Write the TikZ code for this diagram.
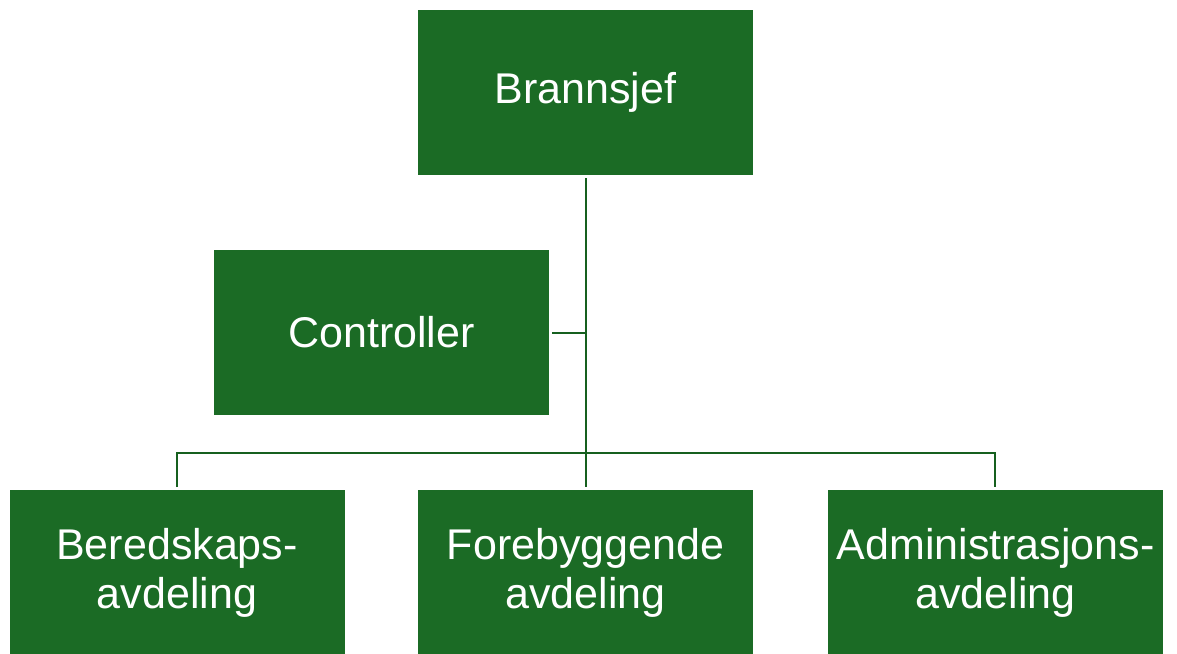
\documentclass[tikz,border=0pt]{standalone}
\usepackage{fontspec}
\setmainfont{Liberation Sans}
\definecolor{boxgreen}{HTML}{1B6B25}
\definecolor{linegreen}{HTML}{16601F}
\begin{document}
\begin{tikzpicture}[x=1pt,y=-1pt,
  box/.style={fill=boxgreen,draw=none,text=white,minimum width=335pt,minimum height=165pt,align=center,inner sep=0pt,font=\fontsize{43}{49}\selectfont},
  conn/.style={draw=linegreen,line width=2pt}]
\useasboundingbox (0,0) rectangle (1177,653);
\node[box] (chief) at (585.5,92.5) {Brannsjef};
\node[box] (ctrl) at (381.5,332.5) {Controller};
\node[box] (bered) at (177,572.5) {Beredskaps-\\avdeling};
\node[box] (fore) at (585.5,572.5) {Forebyggende\\avdeling};
\node[box] (admin) at (995.5,572.5) {Administrasjons-\\avdeling};
\coordinate (hub) at (586,453);
\coordinate (ctrlj) at (586,332.5);
\draw[conn] (586,178) -- (hub);
\draw[conn] (ctrl.east) ++(3,0) -- (ctrlj);
\draw[conn] (177,487) -- (177,453) -- (995,453) -- (995,487);
\draw[conn] (hub) -- (586,487);
\end{tikzpicture}
\end{document}
